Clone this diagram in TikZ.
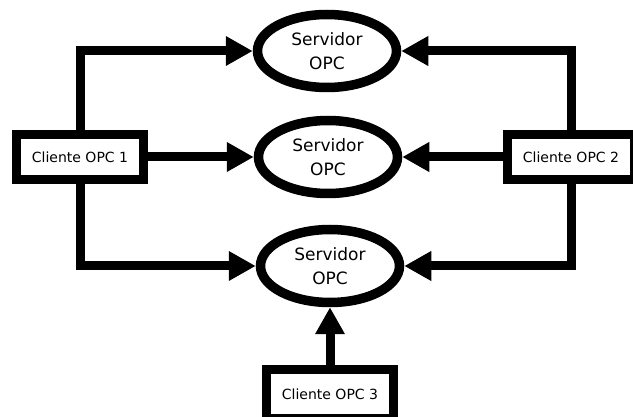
\documentclass[tikz,border=0pt]{standalone}
\usepackage{fontspec}
\setmainfont{DejaVu Sans}
\usetikzlibrary{shapes.geometric,arrows.meta}

\tikzset{
  servidor/.style={draw, ellipse, line width=9.5pt, minimum width=139pt,
    minimum height=73pt, inner sep=0pt, align=center,
    font=\fontsize{17}{24}\selectfont},
  cliente/.style={draw, rectangle, line width=9pt, minimum width=127pt,
    minimum height=45pt, inner sep=0pt, font=\fontsize{14}{16}\selectfont},
  flecha/.style={line width=9pt, -{Triangle[length=27pt,width=28pt]}}
}

\begin{document}
\begin{tikzpicture}[x=1pt, y=-1pt]
  \useasboundingbox (0,0) rectangle (633,417);

  % servidores
  \node[servidor] (s1) at (327,51) {Servidor\\OPC};
  \node[servidor] (s2) at (328,157) {Servidor\\OPC};
  \node[servidor] (s3) at (330,266) {Servidor\\OPC};

  % clientes
  \node[cliente] (c1) at (80,157) {Cliente OPC 1};
  \node[cliente] (c2) at (571,157) {Cliente OPC 2};
  \node[cliente, minimum height=48pt] (c3) at (330,394) {Cliente OPC 3};

  \draw[flecha] (c1.north) |- (s1.west);
  \draw[flecha] (c1.east) -- (s2.west);
  \draw[flecha] (c1.south) |- (s3.west);

  \draw[flecha] (c2.north) |- (s1.east);
  \draw[flecha] (c2.west) -- (s2.east);
  \draw[flecha] (c2.south) |- (s3.east);

  \draw[flecha] (c3.north) -- (s3.south);
\end{tikzpicture}
\end{document}
